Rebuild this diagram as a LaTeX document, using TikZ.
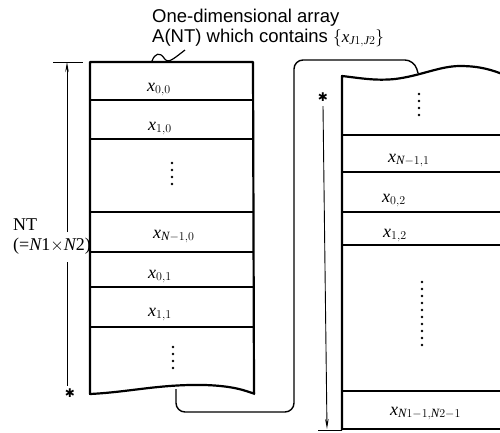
\documentclass[tikz,border=0pt]{standalone}
\usepackage{fontspec}
\setmainfont{Liberation Serif}
\newfontfamily\arialf{Liberation Sans}
\newfontfamily\symf{DejaVu Sans}
\usetikzlibrary{arrows.meta}
\newcommand{\xl}[1]{$\mathit{x}_{#1}$}
\tikzset{
  colline/.style={line width=2.2pt, line join=round},
  rowline/.style={line width=1.8pt},
  conn/.style={line width=1.4pt, rounded corners=9pt},
  dimline/.style={line width=0.9pt},
  dimarrow/.style={dimline, -{Stealth[length=10pt,width=3.5pt]}},
  lbl/.style={anchor=base west, inner sep=0pt, font=\fontsize{18}{20}\selectfont},
  hdr/.style={anchor=base west, inner sep=0pt, font=\arialf\fontsize{18.5}{21}\selectfont},
  nt/.style={anchor=base west, inner sep=0pt, font=\fontsize{18}{20}\selectfont},
  starlbl/.style={inner sep=0pt, font=\symf\fontsize{12}{12}\selectfont},
  dotf/.style={fill=black}
}
\begin{document}
\begin{tikzpicture}[x=1pt,y=-1pt]
\useasboundingbox (0,0) rectangle (500,432);
\clip (0,0) rectangle (500,432);

% header
\node[hdr] (h1) at (152,22) {One-dimensional array};
\node[hdr] (h2) at (152,42) {A(NT) which contains {\fontsize{17}{19}\selectfont$\{\mathit{x}_{\mathit{J}1{,}\mathit{J}2}\}$}};
\draw[line width=1.2pt] (152,61) .. controls (155,53) and (160,52) .. (164,58) .. controls (168,64) and (172,60) .. (185,50);

% left column
\draw[colline] (254,394) -- (253,62) -- (90,62) -- (90,394)
  .. controls (130,392) and (160,384) .. (205,385)
  .. controls (235,386) and (246,391) .. (255,394);
\foreach \yy in {100,139,212,252,287,327}
  \draw[rowline] (90,\yy) -- (253,\yy);

% right column
\draw[colline] (342,430) -- (342,76)
  .. controls (360,78) and (375,81) .. (395,79)
  .. controls (420,76) and (440,66) .. (460,66)
  .. controls (480,66) and (492,70) .. (505,75);
\foreach \yy in {135,172,212,245,391,429}
  \draw[rowline] (342,\yy) -- (505,\yy);

% connector
\coordinate (cstart) at (176,389);
\coordinate (cend) at (418,73);
\draw[conn] (cstart) -- (176,412) -- (294,412) -- (294,60) -- (414,60) -- (cend);

% labels left
\node[lbl] (a00) at (147,91) {\xl{0{,}0}};
\node[lbl] (a10) at (148,130) {\xl{1{,}0}};
\node[lbl] (aN0) at (153,238) {\xl{\mathit{N}-1{,}0}};
\node[lbl] (a01) at (148,278) {\xl{0{,}1}};
\node[lbl] (a11) at (148,316) {\xl{1{,}1}};
% labels right
\node[lbl] (aN1) at (388,162) {\xl{\mathit{N}-1{,}1}};
\node[lbl] (a02) at (382,202) {\xl{0{,}2}};
\node[lbl] (a12) at (383,237) {\xl{1{,}2}};
\node[lbl] (aLast) at (390,415) {\xl{\mathit{N}1-1{,}\mathit{N}2-1}};

% dots
\foreach \yy in {163,170,177,184} \fill[dotf] (172,\yy) circle (1.4);
\foreach \yy in {347,354,361,368} \fill[dotf] (173,\yy) circle (1.4);
\foreach \yy in {94,101,108,115} \fill[dotf] (419,\yy) circle (1.4);
\foreach \i in {0,...,9} \fill[dotf] (422,282+7*\i) circle (1.3);

% left dimension
\coordinate (ltop) at (67,62);
\draw[dimline] (53,62) -- (83,62);
\draw[dimarrow] (67,232) -- (ltop);
\draw[dimline] (67,262) -- (67,386);
\node[starlbl] (lstar) at (70,393) {✱};
\node[nt] (nt1) at (13,230) {NT};
\node[nt] (nt2) at (13,250) {(=$\mathit{N}$1$\times$$\mathit{N}$2)};

% right dimension
\node[starlbl] (rstar) at (323,97) {✱};
\coordinate (rtop) at (323,106);
\coordinate (rbot) at (327,429);
\draw[dimarrow] (rtop) -- (rbot);
\draw[dimline] (318,430) -- (342,430);
\end{tikzpicture}
\end{document}
